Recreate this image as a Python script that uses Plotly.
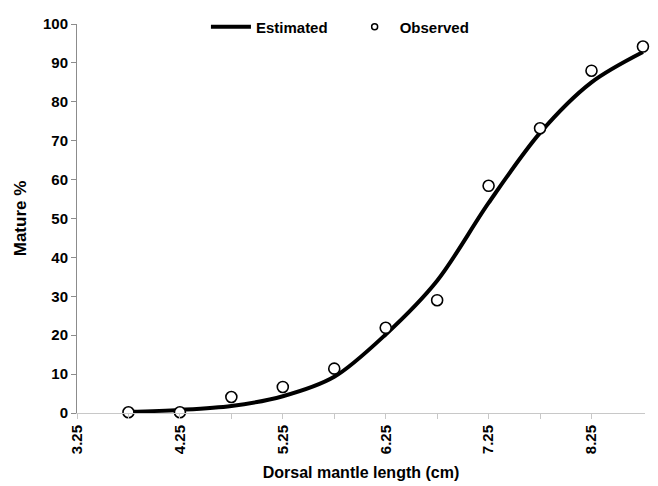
import plotly.graph_objects as go

lengths = [3.75, 4.25, 4.75, 5.25, 5.75, 6.25, 6.75, 7.25, 7.75, 8.25, 8.75]
observed = [0.2, 0.2, 4.1, 6.7, 11.4, 21.9, 29.0, 58.4, 73.2, 88.0, 94.2]
estimated = [0.3, 0.8, 1.8, 4.3, 9.3, 20.2, 34.0, 54.0, 72.0, 85.0, 92.8]

x_tickvals = [3.25, 3.75, 4.25, 4.75, 5.25, 5.75, 6.25, 6.75, 7.25, 7.75, 8.25]
x_ticktext = ["3.25", "", "4.25", "", "5.25", "", "6.25", "", "7.25", "", "8.25"]
y_tickvals = [0, 10, 20, 30, 40, 50, 60, 70, 80, 90, 100]

FONT = "Liberation Sans, Arial, sans-serif"

fig = go.Figure()
fig.add_trace(go.Scatter(
    x=lengths, y=estimated, mode="lines", name="Estimated", legend="legend",
    line=dict(color="black", width=4, shape="spline", smoothing=0.9),
))
fig.add_trace(go.Scatter(
    x=lengths, y=observed, mode="markers", name="Observed", showlegend=False,
    marker=dict(symbol="circle", size=11, color="white", line=dict(color="black", width=1.6)),
    cliponaxis=False,
))
fig.add_trace(go.Scatter(
    x=[None], y=[None], mode="markers", name="Observed", legend="legend2",
    marker=dict(symbol="circle", size=6, color="white", line=dict(color="black", width=1.5)),
))

legend_font = dict(family=FONT, size=15, color="black", weight="bold")

# the page body adds an 8px offset, so the figure is sized to fit inside the window
fig.update_layout(
    width=650, height=478,
    margin=dict(l=69, r=13, t=16, b=73, autoexpand=False),
    paper_bgcolor="white", plot_bgcolor="white",
    font=dict(family=FONT, color="black", size=13),
    showlegend=True,
    legend=dict(
        orientation="h", x=0.227, xanchor="left", y=0.992, yanchor="middle",
        font=legend_font, bgcolor="rgba(0,0,0,0)", itemwidth=40,
    ),
    legend2=dict(
        orientation="h", x=0.48, xanchor="left", y=0.992, yanchor="middle",
        font=legend_font, bgcolor="rgba(0,0,0,0)", itemwidth=40,
    ),
    xaxis=dict(
        range=[3.25, 8.77], tickmode="array", tickvals=x_tickvals, ticktext=x_ticktext,
        tickangle=-90, showgrid=False, zeroline=False, automargin=False,
        showline=True, linecolor="#c8c8c8", linewidth=1,
        ticks="outside", ticklen=5, tickcolor="#c8c8c8",
        tickfont=dict(family=FONT, size=15, color="black", weight="bold"),
        title=dict(text="Dorsal mantle length (cm)", standoff=13,
                   font=dict(family=FONT, size=16, color="black", weight="bold")),
    ),
    yaxis=dict(
        range=[0, 100], tickmode="array", tickvals=y_tickvals,
        showgrid=False, zeroline=False, automargin=False,
        showline=True, linecolor="#8c8c8c", linewidth=1,
        ticks="outside", ticklen=5, tickcolor="#8c8c8c",
        tickfont=dict(family=FONT, size=15, color="black", weight="bold"),
        title=dict(text="Mature %", standoff=12,
                   font=dict(family=FONT, size=17, color="black", weight="bold")),
    ),
)

fig.write_html("out.html")
